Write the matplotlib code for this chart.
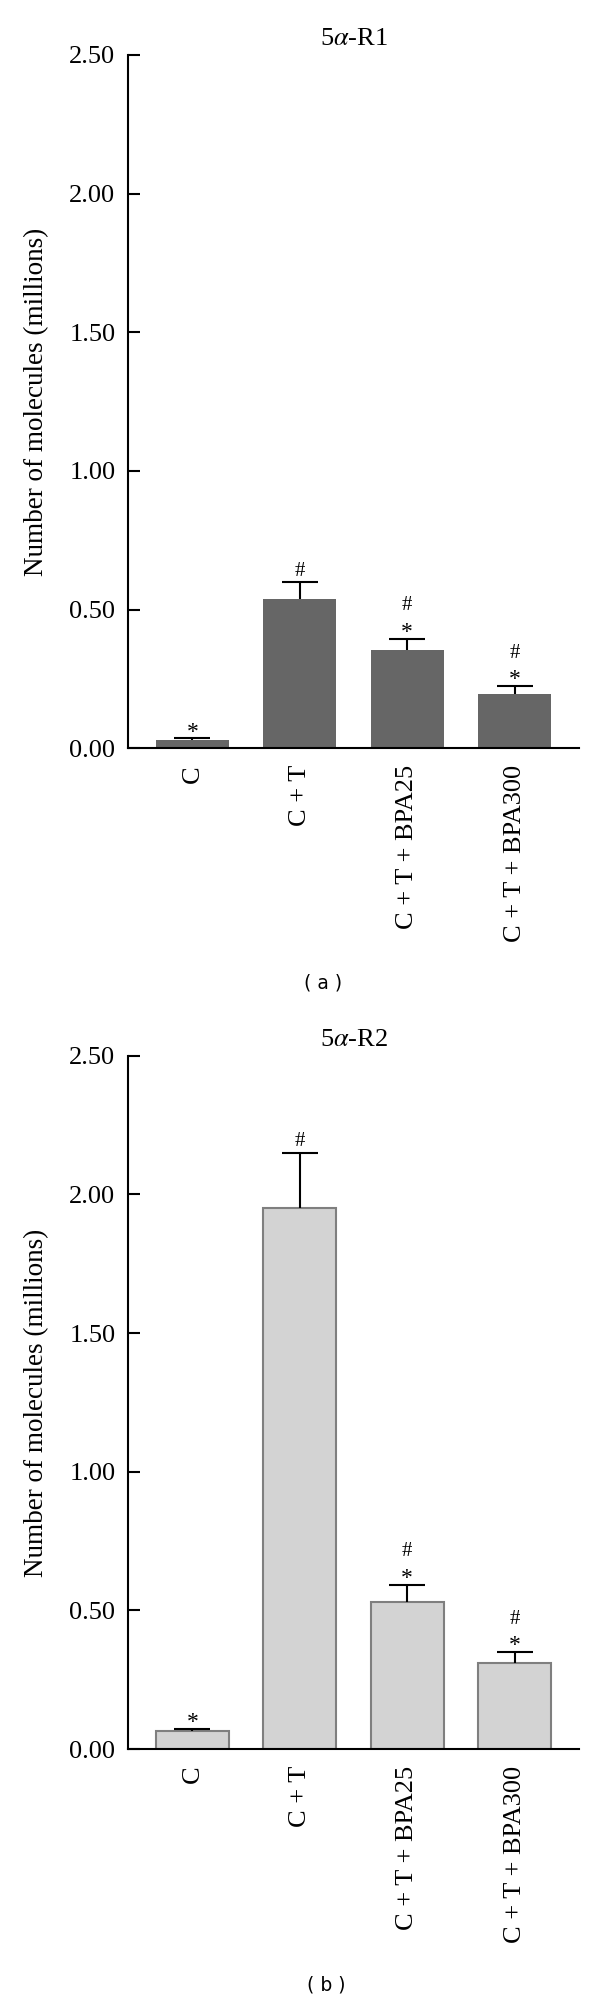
import matplotlib
matplotlib.use("Agg")
import matplotlib.pyplot as plt
import numpy as np

plt.rcParams["font.family"] = ["Liberation Serif", "DejaVu Serif"]
plt.rcParams["mathtext.fontset"] = "stix"

# ── data ─────────────────────────────────────────────────────────────────────
groups = ["C", "C + T", "C + T + BPA25", "C + T + BPA300"]

r1_mean = [0.032, 0.54, 0.355, 0.195]
r1_err = [0.004, 0.06, 0.04, 0.03]
r1_marks = ["*", "#", "*#", "*#"]

r2_mean = [0.067, 1.95, 0.53, 0.31]
r2_err = [0.007, 0.20, 0.062, 0.04]
r2_marks = ["*", "#", "*#", "*#"]

yticks = [0.0, 0.5, 1.0, 1.5, 2.0, 2.5]
ytick_labels = ["0.00", "0.50", "1.00", "1.50", "2.00", "2.50"]


def draw_panel(ax, mean, err, marks, title, face, edge):
    x = np.arange(len(groups))
    mean = np.asarray(mean)
    err = np.asarray(err)
    ax.bar(x, mean, width=0.68, color=face, edgecolor=edge,
           linewidth=1.5 if edge != "none" else 0, zorder=2)
    _, caps, _ = ax.errorbar(x, mean, yerr=[np.zeros_like(err), err], fmt="none",
                             ecolor="black", elinewidth=1.5, capsize=13,
                             capthick=1.5, zorder=3)
    # 下側のキャップは不要（上向きのみ）
    caps[0].set_visible(False)

    # significance marks, stacked upward from the cap
    for xi, top, m in zip(x, mean + err, marks):
        if "*" in m:
            ax.annotate("*", (xi, top), xytext=(0, 0.5), textcoords="offset points",
                        ha="center", va="baseline", fontsize=17)
        if "#" in m:
            dy = 20.5 if "*" in m else 4.5
            ax.annotate("#", (xi, top), xytext=(0, dy), textcoords="offset points",
                        ha="center", va="baseline", fontsize=15)

    ax.set_xlim(-0.6, 3.6)
    ax.set_ylim(0, 2.5)
    ax.set_yticks(yticks)
    ax.set_yticklabels(ytick_labels, fontsize=19)
    ax.set_xticks(x)
    ax.set_xticklabels(groups, rotation=90, fontsize=19)
    ax.tick_params(axis="y", direction="in", length=8.5, width=1.5, pad=9)
    ax.tick_params(axis="x", length=0, pad=12)
    for s in ["top", "right"]:
        ax.spines[s].set_visible(False)
    for s in ["left", "bottom"]:
        ax.spines[s].set_linewidth(1.5)
    ax.set_ylabel("Number of molecules (millions)", fontsize=19.5)
    ax.yaxis.set_label_coords(-0.175, 0.5)
    ax.set_title(title, fontsize=19, pad=7)


fig = plt.figure(figsize=(6, 20), dpi=100)
ax_a = fig.add_axes([0.2133, 0.6258, 0.7517, 0.3468])
ax_b = fig.add_axes([0.2133, 0.1254, 0.7517, 0.3468])

draw_panel(ax_a, r1_mean, r1_err, r1_marks, "5$\\alpha$-R1", "#666666", "none")
draw_panel(ax_b, r2_mean, r2_err, r2_marks, "5$\\alpha$-R2", "#d3d3d3", "#7f7f7f")

fig.text(0.538, 1 - 983 / 2000, "( a )", ha="center", va="center",
         fontsize=13.5, family="DejaVu Sans")
fig.text(0.543, 1 - 1985 / 2000, "( b )", ha="center", va="center",
         fontsize=13.5, family="DejaVu Sans")

fig.savefig("out.png", dpi=100)
